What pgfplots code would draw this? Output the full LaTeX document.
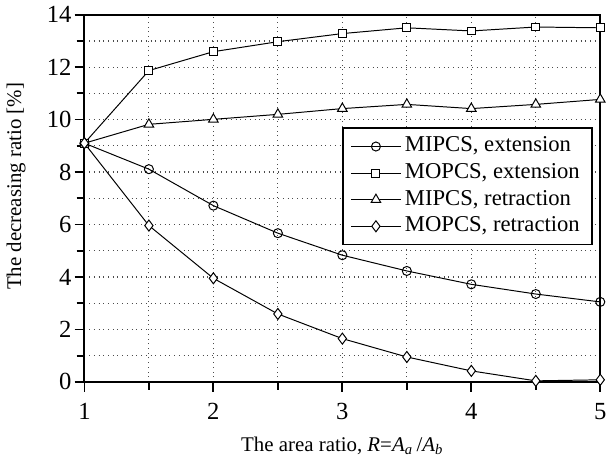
\documentclass[border=0pt]{standalone}
\usepackage{pgfplots}
\pgfplotsset{compat=1.18}
\usepackage{fontspec}
\setmainfont{Liberation Serif}
\begin{document}
\begin{tikzpicture}
\begin{axis}[
  scale only axis,
  width=262pt, height=186.5pt,
  xmin=1, xmax=5, ymin=0, ymax=14,
  xtick={1,2,3,4,5}, ytick={0,2,4,6,8,10,12,14},
  minor x tick num=1, minor y tick num=1,
  grid=both,
  major grid style={black!70, dotted, line width=0.6pt},
  minor grid style={black!70, dotted, line width=0.6pt},
  tick align=outside, tick pos=left,
  major tick length=5pt, minor tick length=4pt,
  every tick/.style={black, line width=0.9pt},
  axis line style={line width=1.1pt},
  /pgf/number format/assume math mode=true,
  tick label style={font=\fontsize{12.5}{13}\selectfont},
  xticklabel style={yshift=-2.5pt},
  yticklabel style={xshift=2pt},
  xlabel={The area ratio, \textit{R}=\textit{A}\textsubscript{\textit{a}}\,/\textit{A}\textsubscript{\textit{b}}},
  ylabel={The decreasing ratio [\%]},
  label style={font=\fontsize{10.6}{11}\selectfont},
  xlabel style={yshift=-1.5pt},
  ylabel style={yshift=4pt, xshift=6pt},
  legend cell align=left,
  legend style={at={(rel axis cs:0.985,0.693)}, anchor=north east,
    font=\fontsize{11.5}{12}\selectfont, draw=black, line width=0.9pt,
    inner xsep=4pt, inner ysep=3.5pt, row sep=2pt,
    nodes={text height=8pt, text depth=2.5pt, inner ysep=0.5pt, inner xsep=2pt}},
  legend image code/.code={\draw[mark repeat=2,mark phase=2] plot coordinates {(0pt,0pt)(12.5pt,0pt)(25pt,0pt)};},
  every axis plot/.append style={black, line width=0.5pt, mark options={fill=white, solid, line width=0.5pt}},
]
\addplot[mark=o, mark size=2.3pt, mark options={fill=white}] coordinates {
(1,9.1)(1.5,8.11)(2,6.72)(2.5,5.67)(3,4.83)(3.5,4.23)(4,3.72)(4.5,3.35)(5,3.05)};
\addlegendentry{MIPCS, extension}
\addplot[mark=square*, mark size=2.0pt] coordinates {
(1,9.1)(1.5,11.87)(2,12.59)(2.5,12.97)(3,13.28)(3.5,13.5)(4,13.38)(4.5,13.53)(5,13.5)};
\addlegendentry{MOPCS, extension}
\addplot[mark=triangle*, mark size=2.8pt] coordinates {
(1,9.1)(1.5,9.82)(2,10.01)(2.5,10.2)(3,10.42)(3.5,10.58)(4,10.42)(4.5,10.58)(5,10.77)};
\addlegendentry{MIPCS, retraction}
\addplot[mark=diamond*, mark size=2.8pt] coordinates {
(1,9.1)(1.5,5.96)(2,3.95)(2.5,2.59)(3,1.65)(3.5,0.95)(4,0.42)(4.5,0.04)(5,0.08)};
\addlegendentry{MOPCS, retraction}
\end{axis}
\end{tikzpicture}
\end{document}
